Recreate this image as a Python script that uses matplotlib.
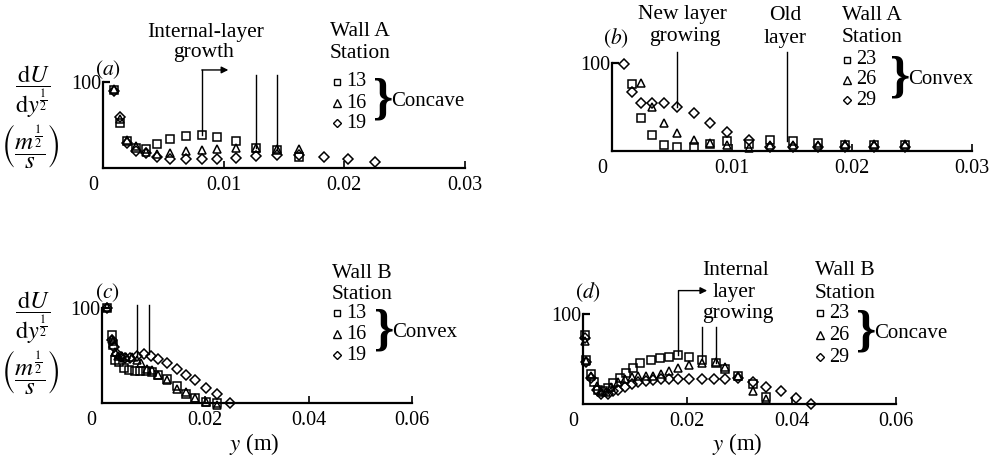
import matplotlib
matplotlib.use("Agg")
import matplotlib.pyplot as plt

plt.rcParams["font.family"] = ["Liberation Serif", "DejaVu Serif"]
plt.rcParams["mathtext.fontset"] = "stix"

# ---------------- data: y (m) and dU/dy^(1/2) ----------------
# (a) Wall A, concave stations 13, 16, 19
a_y13 = [0.0009, 0.0014, 0.0020, 0.0027, 0.0036, 0.0045, 0.0056, 0.0069,
         0.0082, 0.0095, 0.0110, 0.0127, 0.0144, 0.0163]
a_s13 = [91, 52, 31, 23, 22, 28, 34, 37, 38, 36, 31, 23, 21, 13]
a_y16 = [0.0009, 0.0014, 0.0020, 0.0027, 0.0036, 0.0045, 0.0056, 0.0069,
         0.0082, 0.0095, 0.0110, 0.0127, 0.0144, 0.0163]
a_s16 = [92, 57, 33, 26, 19, 16, 18, 20, 21, 22, 23, 23, 22, 22]
a_y19 = [0.0009, 0.0014, 0.0020, 0.0027, 0.0036, 0.0045, 0.0056, 0.0069,
         0.0082, 0.0095, 0.0110, 0.0127, 0.0144, 0.0163, 0.0183, 0.0203, 0.0226]
a_s19 = [90, 59, 29, 20, 17, 13, 10, 10, 10, 10, 12, 14, 15, 15, 13, 11, 7]

# (b) Wall A, convex stations 23, 26, 29
b_y23 = [0.0017, 0.0024, 0.0033, 0.0043, 0.0054, 0.0068, 0.0082, 0.0096,
         0.0114, 0.0132, 0.0151, 0.0172, 0.0194, 0.0218, 0.0244]
b_s23 = [76, 38, 18, 6.5, 4.6, 5, 8, 11, 8, 12, 11, 9, 6.5, 6.5, 6.5]
b_y26 = [0.0024, 0.0033, 0.0043, 0.0054, 0.0068, 0.0082, 0.0096,
         0.0114, 0.0132, 0.0151, 0.0172, 0.0194, 0.0218, 0.0244]
b_s26 = [77, 50, 32, 21, 13, 9, 6.5, 3, 6.5, 6.5, 6.5, 8, 8, 8]
b_y29 = [0.0010, 0.0017, 0.0024, 0.0033, 0.0043, 0.0054, 0.0068, 0.0082, 0.0096,
         0.0114, 0.0132, 0.0151, 0.0172, 0.0194, 0.0218, 0.0244]
b_s29 = [99, 67, 55, 54, 54, 50, 43, 32, 22, 12, 4.6, 4, 4.6, 5, 5, 5]

# (c) Wall B, convex stations 13, 16, 19
c_y13 = [0.0011, 0.0021, 0.0023, 0.0027, 0.0034, 0.0043, 0.0054, 0.0065, 0.0075,
         0.0086, 0.0097, 0.0110, 0.0127, 0.0145, 0.0163, 0.0181, 0.0202, 0.0224]
c_s13 = [100, 72, 61, 45, 43, 37, 35, 34, 34, 34, 33, 30, 25, 18, 10, 5, 1, 0]
c_y16 = [0.0011, 0.0021, 0.0023, 0.0027, 0.0032, 0.0039, 0.0048, 0.0058, 0.0068,
         0.0077, 0.0087, 0.0097, 0.0110, 0.0127, 0.0145, 0.0163, 0.0181, 0.0202, 0.0224]
c_s16 = [101, 67, 65, 54, 50, 49, 48, 48, 45, 42, 36, 35, 30, 24, 15, 12, 5, 1, -2]
c_y19 = [0.0011, 0.0021, 0.0024, 0.0029, 0.0037, 0.0045, 0.0055, 0.0069, 0.0082,
         0.0095, 0.0110, 0.0127, 0.0145, 0.0163, 0.0181, 0.0202, 0.0224, 0.0248]
c_s19 = [100, 66, 59, 52, 48, 47, 47, 49, 52, 49, 46, 42, 36, 30, 24, 16, 9, 0]

# (d) Wall B, concave stations 23, 26, 29
d_y23 = [0.00045, 0.00064, 0.0016, 0.0022, 0.0029, 0.0038, 0.0048, 0.0058, 0.0070,
         0.0083, 0.0096, 0.0110, 0.0130, 0.0147, 0.0164, 0.0183, 0.0204, 0.0228,
         0.0255, 0.0273, 0.0297, 0.0326, 0.0350]
d_s23 = [77, 49, 33, 24, 16, 15, 18, 23, 29, 35, 40, 46, 49, 51, 52, 54, 52, 49,
         46, 39, 31, 22, 8]
d_y26 = [0.00045, 0.00064, 0.0016, 0.0026, 0.0035, 0.0045, 0.0054, 0.0067, 0.0080,
         0.0093, 0.0105, 0.0120, 0.0134, 0.0150, 0.0164, 0.0183, 0.0204, 0.0228,
         0.0255, 0.0273, 0.0297, 0.0326, 0.0350]
d_s26 = [70, 48, 31, 20, 13, 13, 19, 25, 28, 30, 31, 31, 31, 33, 37, 40, 43, 46,
         47, 41, 31, 15, 6]
d_y29 = [0.0003, 0.00064, 0.0016, 0.0026, 0.0035, 0.0047, 0.0058, 0.0068, 0.0080,
         0.0093, 0.0105, 0.0120, 0.0134, 0.0150, 0.0164, 0.0183, 0.0204, 0.0228,
         0.0252, 0.0273, 0.0297, 0.0326, 0.0350, 0.0380, 0.0409, 0.0438]
d_s29 = [73, 47, 29, 16, 11, 11, 14, 16, 19, 22, 24, 26, 27, 28, 28, 28, 28, 28,
         28, 28, 29, 24, 19, 14, 7, 0]

# axis ticks
ticks_small = [0.01, 0.02, 0.03]
ticks_wide = [0.02, 0.04, 0.06]

# ---------------- figure ----------------
W, H = 1005, 461
fig = plt.figure(figsize=(W / 100, H / 100), dpi=100)

TICK_FS = 14.5
TEXT_FS = 15.5
MK = dict(mfc="none", mec="black", mew=1.1, ls="none", clip_on=False)
MARKERS = ["s", "^", "D"]
MSIZES = [5.5, 6.2, 4.8]


def panel(left, right, top, bottom, xmax, xticks):
    ax = fig.add_axes([left / W, 1 - bottom / H, (right - left) / W, (bottom - top) / H])
    ax.set_xlim(0, xmax)
    ax.set_ylim(0, 100)
    ax.patch.set_visible(False)
    for side in ("top", "right"):
        ax.spines[side].set_visible(False)
    for side in ("left", "bottom"):
        ax.spines[side].set_linewidth(1.6)
    ax.set_xticks(xticks)
    ax.set_xticklabels([f"{t:g}" for t in xticks])
    ax.set_yticks([100])
    ax.set_yticklabels(["100"])
    ax.tick_params(axis="x", direction="in", length=5, width=1.2, pad=6,
                   labelsize=TICK_FS)
    ax.tick_params(axis="y", direction="in", length=5, width=1.6, pad=1,
                   labelsize=TICK_FS)
    return ax


def series(ax, data):
    for (x, v), m, s in zip(data, MARKERS, MSIZES):
        ax.plot(x, v, marker=m, ms=s, **MK)


def vline(ax, x, y0, y1):
    ax.plot([x, x], [y0, y1], color="black", lw=1.0, clip_on=False)


def arrow(ax, x0, x1, y):
    ax.annotate("", xy=(x1, y), xytext=(x0, y), annotation_clip=False,
                arrowprops=dict(arrowstyle="-|>", lw=1.0, color="black",
                                mutation_scale=10, shrinkA=0, shrinkB=0))


# (a)
ax_a = panel(103, 464.5, 82, 168, 0.03, ticks_small)
series(ax_a, [(a_y13, a_s13), (a_y16, a_s16), (a_y19, a_s19)])
vline(ax_a, a_y13[8], a_s13[8], 114)
arrow(ax_a, a_y13[8], 0.0104, 114)
vline(ax_a, a_y13[11], a_s13[11], 108)
vline(ax_a, a_y13[12], a_s13[12], 108)

# (b)
ax_b = panel(612, 972, 63, 151, 0.03, ticks_small)
series(ax_b, [(b_y23, b_s23), (b_y26, b_s26), (b_y29, b_s29)])
vline(ax_b, b_y29[5], b_s29[5], 112)
vline(ax_b, 0.0146, 11, 112)

# (c)
ax_c = panel(101.5, 412, 308, 403, 0.06, ticks_wide)
series(ax_c, [(c_y13, c_s13), (c_y16, c_s16), (c_y19, c_s19)])
vline(ax_c, c_y19[7], c_s19[7], 103)
vline(ax_c, 0.0092, 52, 103)

# (d)
ax_d = panel(583, 896, 314, 404, 0.06, ticks_wide)
series(ax_d, [(d_y23, d_s23), (d_y26, d_s26), (d_y29, d_s29)])
vline(ax_d, d_y23[15], d_s23[15], 126)
arrow(ax_d, d_y23[15], 0.0238, 126)
vline(ax_d, d_y23[17], d_s23[17], 86)
vline(ax_d, d_y23[18], d_s23[18], 86)

# ---------------- annotations in pixel coordinates ----------------
ov = fig.add_axes([0, 0, 1, 1])
ov.set_xlim(0, W)
ov.set_ylim(H, 0)
ov.axis("off")


def t(x, y, s, fs=TEXT_FS, ha="center", **kw):
    ov.text(x, y, s, fontsize=fs, ha=ha, va="center", **kw)


def legend(x, ys, labels, brace_x, brace_y, word):
    for y, lab, m, s in zip(ys, labels, MARKERS, MSIZES):
        ov.plot([x], [y], marker=m, ms=s - 0.6, mfc="none", mec="black", mew=1.0)
        t(x + 9, y, lab, fs=TICK_FS, ha="left")
    t(brace_x, brace_y, "}", fs=37, ha="center", fontweight="bold")
    t(brace_x + 8, brace_y, word, fs=TEXT_FS - 0.5, ha="left")


# origin labels
t(93, 185, "0", fs=TICK_FS)
t(602, 168, "0", fs=TICK_FS)
t(91, 420, "0", fs=TICK_FS)
t(573, 421, "0", fs=TICK_FS)

# x-axis quantity
t(254, 444, r"$y$ (m)", fs=TEXT_FS + 1)
t(737, 444, r"$y$ (m)", fs=TEXT_FS + 1)

# y-axis quantity labels
for yc in (92, 318):
    t(33, yc, r"$\dfrac{\mathrm{d}U}{\mathrm{d}y^{\frac{1}{2}}}$", fs=17.5)
for yc in (146, 372):
    t(30, yc, r"$\left(\dfrac{m^{\frac{1}{2}}}{s}\right)$", fs=18)

# panel letters
t(108, 70, r"$(a)$")
t(616, 38, r"$(b)$")
t(107, 293, r"$(c)$")
t(588, 292, r"$(d)$")

# (a) texts
t(206, 32, "Internal-layer")
t(204, 53, "growth")
t(330, 32, "Wall A", ha="left")
t(330, 53, "Station", ha="left")
legend(337, [82, 103, 123], ["13", "16", "19"], 383, 101, "Concave")

# (b) texts
t(682, 15, "New layer")
t(685, 37, "growing")
t(785, 15, "Old")
t(785, 38, "layer")
t(842, 15, "Wall A", ha="left")
t(842, 37, "Station", ha="left")
legend(847, [60, 80, 100], ["23", "26", "29"], 900, 79, "Convex")

# (c) texts
t(332, 273, "Wall B", ha="left")
t(332, 294, "Station", ha="left")
legend(337, [313, 334, 355], ["13", "16", "19"], 384, 332, "Convex")

# (d) texts
t(736, 270, "Internal")
t(734, 292, "layer")
t(738, 313, "growing")
t(815, 270, "Wall B", ha="left")
t(815, 293, "Station", ha="left")
legend(820, [313, 335, 357], ["23", "26", "29"], 866, 333, "Concave")

fig.savefig("out.png", dpi=100)
